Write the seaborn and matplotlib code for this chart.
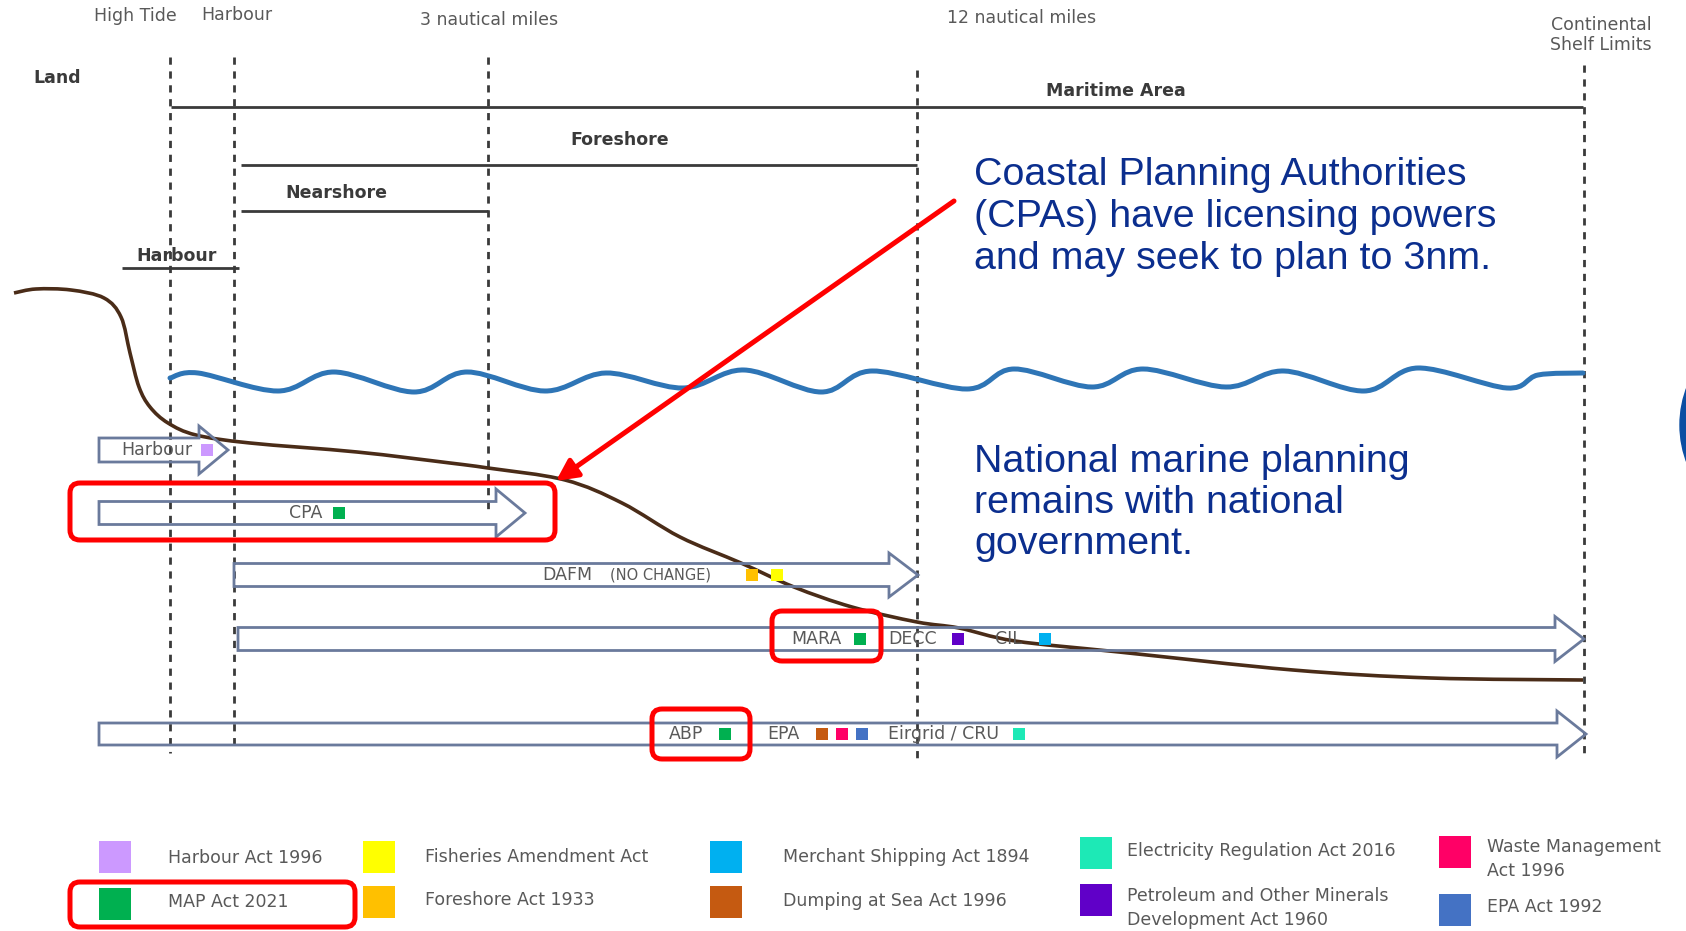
import matplotlib
matplotlib.use("Agg")
import matplotlib.pyplot as plt
import seaborn as sns
import pandas as pd
from matplotlib.path import Path
from matplotlib.patches import PathPatch, Polygon, FancyBboxPatch, Circle

# ---- data (distance axis in drawing units, left = land) ----
boundary_names = ["High Tide", "Harbour", "3 nautical miles", "12 nautical miles",
                  "Continental\nShelf Limits"]
boundary_x = [170, 234, 488, 917, 1584]

zone_names = ["Maritime Area", "Foreshore", "Nearshore", "Harbour"]
zone_start = [171, 241, 241, 122]
zone_end = [1583, 917, 488, 239]

coast_x = [14, 36, 71, 104, 121, 130, 139, 150, 168, 196, 250, 357, 450, 488, 565, 622,
           680, 741, 794, 852, 917, 959, 1015, 1119, 1293, 1431, 1583]
coast_y = [293, 289, 290, 298, 317, 353, 387, 407, 423, 435, 443, 452, 463, 468, 480, 503,
           537, 563, 587, 607, 622, 628, 641, 652, 670, 678, 680]

wave_x = [170, 198, 278, 334, 414, 467, 545, 606, 683, 744, 821, 872, 967, 1014, 1092,
          1143, 1226, 1284, 1364, 1418, 1507, 1538, 1583]
wave_y = [378, 373, 391, 372, 392, 372, 391, 373, 388, 370, 392, 371, 389, 369, 387,
          369, 387, 371, 391, 368, 388, 375, 373]

regime_start = [99, 99, 234, 238, 99]
regime_end = [228, 525, 918, 1584, 1586]
regime_tags = [["Harbour"], ["CPA"], ["DAFM", "(NO CHANGE)"], ["MARA", "DECC", "CIL"],
               ["ABP", "EPA", "Eirgrid / CRU"]]
regime_acts = [["Harbour Act 1996"],
               ["MAP Act 2021"],
               ["Foreshore Act 1933", "Fisheries Amendment Act"],
               ["MAP Act 2021", "Petroleum and Other Minerals\nDevelopment Act 1960",
                "Merchant Shipping Act 1894"],
               ["MAP Act 2021", "Dumping at Sea Act 1996", "Waste Management\nAct 1996",
                "EPA Act 1992", "Electricity Regulation Act 2016"]]

acts = ["Harbour Act 1996", "MAP Act 2021",
        "Fisheries Amendment Act", "Foreshore Act 1933",
        "Merchant Shipping Act 1894", "Dumping at Sea Act 1996",
        "Electricity Regulation Act 2016", "Petroleum and Other Minerals\nDevelopment Act 1960",
        "Waste Management\nAct 1996", "EPA Act 1992"]
act_colors = ["#cc99ff", "#00b050", "#ffff00", "#ffc000", "#00b0f0", "#c55a11",
              "#1de9b6", "#6000c8", "#ff0066", "#4472c4"]
palette = dict(zip(acts, act_colors))

note_cpa = ["Coastal Planning Authorities", "(CPAs) have licensing powers",
            "and may seek to plan to 3nm."]
note_national = ["National marine planning", "remains with national", "government."]

# ---- layout ----
row_y = [450, 513, 575, 639, 734]
shaft_half = [12, 11.5, 11.5, 11.5, 11]
head_half = [24, 24, 22, 22.5, 23]
head_len = 29
tag_x = [[157], [306], [567, 660], [816, 913, 1008], [686, 783, 944]]
tag_size = [[12.5], [12.5], [12.5, 10.5], [12.5, 12.5, 12.5], [12.5, 12.5, 12.5]]
sw_x = [[207], [339], [752, 777], [860, 958, 1045], [725, 822, 842, 862, 1019]]

line_top = [57, 57, 57, 70, 65]
line_bottom = [753, 747, 512, 761, 753]
label_pos = [(135, 16), (237, 15), (489, 20), (1022, 18), (1601, 35)]
zone_y = [107, 165, 211, 268]
zone_label = [(1116, 91), (620, 140), (336, 193), (177, 256)]

sns.set_theme(style="white")
plt.rcParams["font.family"] = ["DejaVu Sans"]

fig = plt.figure(figsize=(16.86, 9.31), dpi=100)
ax = fig.add_axes([0, 0, 1, 1])
ax.set_facecolor("white")

GRAY = "#595959"
DARK = "#3a3a3a"
OUTLINE = "#6a7a9c"


def smooth_path(xs, ys):
    pts = list(zip(xs, ys))
    verts = [pts[0]]
    codes = [Path.MOVETO]
    n = len(pts)
    for i in range(n - 1):
        p0 = pts[i - 1] if i > 0 else pts[i]
        p1 = pts[i]
        p2 = pts[i + 1]
        p3 = pts[i + 2] if i + 2 < n else pts[i + 1]
        c1 = (p1[0] + (p2[0] - p0[0]) / 6, p1[1] + (p2[1] - p0[1]) / 6)
        c2 = (p2[0] - (p3[0] - p1[0]) / 6, p2[1] - (p3[1] - p1[1]) / 6)
        verts += [c1, c2, p2]
        codes += [Path.CURVE4] * 3
    return Path(verts, codes)


# boundaries
for name, x, t, b, (lx, ly) in zip(boundary_names, boundary_x, line_top, line_bottom, label_pos):
    ax.plot([x, x], [t, b], color=DARK, lw=2.0, dashes=(2.6, 2.4), zorder=2)
    ax.text(lx, ly, name, ha="center", va="center", fontsize=12.5, color=GRAY)
ax.text(57, 78, "Land", ha="center", va="center", fontsize=12.5, color=DARK, fontweight="bold")

# zones
for name, s, e, y, (lx, ly) in zip(zone_names, zone_start, zone_end, zone_y, zone_label):
    ax.plot([s, e], [y, y], color=DARK, lw=2.0, solid_capstyle="butt", zorder=2)
    ax.text(lx, ly, name, ha="center", va="center", fontsize=12.5, color=DARK, fontweight="bold")

# coastline and sea surface
ax.add_patch(PathPatch(smooth_path(coast_x, coast_y), fill=False, edgecolor="#4a2c18",
                       lw=2.6, zorder=3))
ax.add_patch(PathPatch(smooth_path(wave_x, wave_y), fill=False, edgecolor="#2e75b6",
                       lw=3.6, zorder=3, capstyle="round"))

# regime arrows
sw_rows = []
for i, (s, e) in enumerate(zip(regime_start, regime_end)):
    y, sh, hh = row_y[i], shaft_half[i], head_half[i]
    b = e - head_len
    verts = [(s, y - sh), (b, y - sh), (b, y - hh), (e, y), (b, y + hh), (b, y + sh), (s, y + sh)]
    ax.add_patch(Polygon(verts, closed=True, fill=False, edgecolor=OUTLINE, lw=2.0, zorder=4))
    for tag, tx, fs in zip(regime_tags[i], tag_x[i], tag_size[i]):
        ax.text(tx, y, tag, ha="center", va="center", fontsize=fs, color=GRAY, zorder=5)
    for act, sx in zip(regime_acts[i], sw_x[i]):
        sw_rows.append({"x": sx, "y": y, "act": act})

sw = pd.DataFrame(sw_rows)
sns.scatterplot(data=sw, x="x", y="y", hue="act", palette=palette, marker="s", s=85,
                linewidth=0, legend=False, ax=ax, zorder=6)

# legend
leg_sq_x = [115, 115, 379, 379, 726, 726, 1096, 1096, 1455, 1455]
leg_sq_y = [857, 904, 857, 902, 857, 902, 853, 900, 852, 910]
leg_tx = [168, 168, 425, 425, 783, 783, 1127, 1127, 1487, 1487]
leg_ty = [858, 902, 857, 900, 857, 901, 851, 908, 859, 907]
leg = pd.DataFrame({"x": leg_sq_x, "y": leg_sq_y, "act": acts})
sns.scatterplot(data=leg, x="x", y="y", hue="act", palette=palette, marker="s", s=560,
                linewidth=0, legend=False, ax=ax, zorder=6)
for act, tx, ty in zip(acts, leg_tx, leg_ty):
    ax.text(tx, ty, act, ha="left", va="center", fontsize=12.5, color=GRAY, linespacing=1.45)

# highlights
for (x0, y0, x1, y1) in [(70, 483, 555, 540), (772, 611, 881, 661), (652, 709, 750, 759),
                         (70, 882, 355, 927)]:
    ax.add_patch(FancyBboxPatch((x0, y0), x1 - x0, y1 - y0,
                                boxstyle="round,pad=0,rounding_size=10",
                                fill=False, edgecolor="#ff0000", lw=3.6, zorder=7))
ax.annotate("", xy=(556, 481), xytext=(954, 201),
            arrowprops=dict(arrowstyle="-|>", color="#ff0000", lw=3.6, mutation_scale=32,
                            shrinkA=0, shrinkB=0), zorder=8)

# notes
NAVY = "#0b2e8e"
for k, line in enumerate(note_cpa):
    ax.text(974, 185 + 42 * k, line, ha="left", va="baseline", fontsize=28.4,
            family=["Liberation Sans", "DejaVu Sans"], color=NAVY)
for k, line in enumerate(note_national):
    ax.text(974, 472 + 41 * k, line, ha="left", va="baseline", fontsize=28.4,
            family=["Liberation Sans", "DejaVu Sans"], color=NAVY)

ax.add_patch(Circle((1785, 425), 105, color="#0b4ea2", zorder=2))

ax.set_xlim(0, 1686)
ax.set_ylim(931, 0)
ax.axis("off")
fig.savefig("out.png", dpi=100)
